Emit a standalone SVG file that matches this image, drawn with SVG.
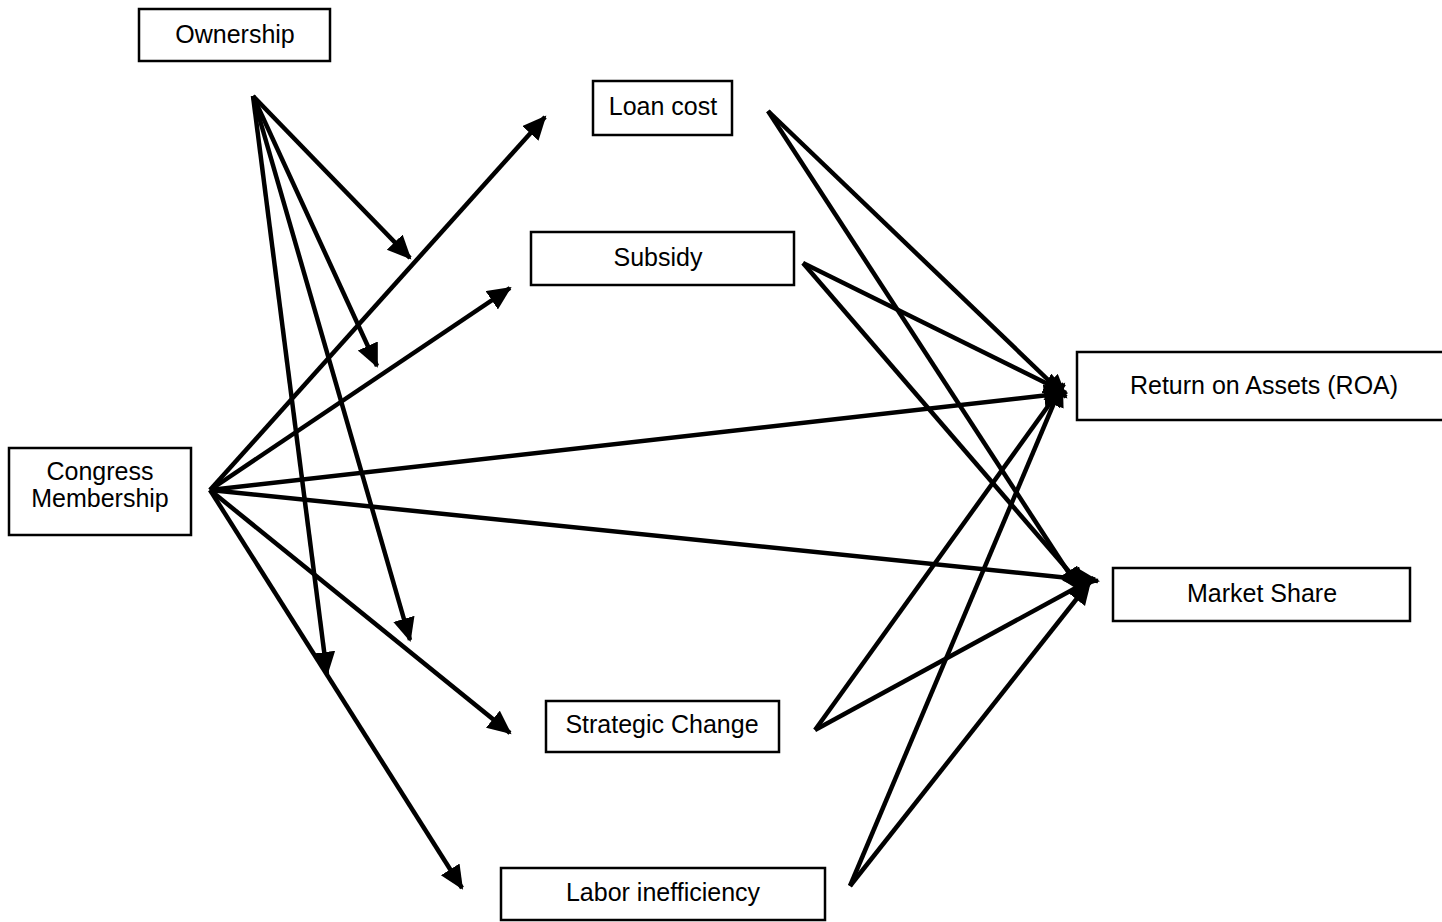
<svg xmlns="http://www.w3.org/2000/svg" width="1442" height="922" viewBox="0 0 1442 922">
<style>
.box{fill:#fff;stroke:#000;stroke-width:2.5}
.lbl{font-family:"Liberation Sans",Arial,sans-serif;font-size:25px;fill:#000;text-anchor:middle}
.ln{stroke:#000;stroke-width:4.5;fill:none;marker-end:url(#ah)}
</style>
<defs>
<marker id="ah" markerUnits="userSpaceOnUse" markerWidth="26" markerHeight="24" refX="22" refY="11" orient="auto">
<path d="M0,0 L24,11 L0,22 Z" fill="#000"/>
</marker>
</defs>
<rect width="1442" height="922" fill="#fff"/>
<g id="connectors">
<line class="ln" x1="253" y1="96" x2="410" y2="258"/>
<line class="ln" x1="253" y1="96" x2="377" y2="366"/>
<line class="ln" x1="253" y1="96" x2="410" y2="640"/>
<line class="ln" x1="253" y1="96" x2="327" y2="674"/>
<line class="ln" x1="210" y1="490" x2="545" y2="117"/>
<line class="ln" x1="210" y1="490" x2="510" y2="288"/>
<line class="ln" x1="210" y1="490" x2="1066" y2="393"/>
<line class="ln" x1="210" y1="490" x2="1098" y2="581"/>
<line class="ln" x1="210" y1="490" x2="510" y2="733"/>
<line class="ln" x1="210" y1="490" x2="462" y2="888"/>
<line class="ln" x1="768" y1="111" x2="1066" y2="397"/>
<line class="ln" x1="768" y1="111" x2="1080" y2="590"/>
<line class="ln" x1="803" y1="263" x2="1066" y2="393"/>
<line class="ln" x1="803" y1="263" x2="1085" y2="590"/>
<line class="ln" x1="815" y1="730" x2="1064" y2="384"/>
<line class="ln" x1="815" y1="730" x2="1094" y2="578"/>
<line class="ln" x1="850" y1="886" x2="1062" y2="384"/>
<line class="ln" x1="850" y1="886" x2="1090" y2="582"/>
</g>
<g id="ownership"><rect class="box" x="139" y="9" width="191" height="52"/><text class="lbl" x="235" y="43">Ownership</text></g>
<g id="loan-cost"><rect class="box" x="593" y="81" width="139" height="54"/><text class="lbl" x="663" y="115">Loan cost</text></g>
<g id="subsidy"><rect class="box" x="531" y="232" width="263" height="53"/><text class="lbl" x="658" y="266">Subsidy</text></g>
<g id="congress"><rect class="box" x="9" y="448" width="182" height="87"/><text class="lbl" x="100" y="480">Congress</text><text class="lbl" x="100" y="507">Membership</text></g>
<g id="roa"><rect class="box" x="1077" y="352" width="370" height="68"/><text class="lbl" x="1264" y="394">Return on Assets (ROA)</text></g>
<g id="market-share"><rect class="box" x="1113" y="568" width="297" height="53"/><text class="lbl" x="1262" y="602">Market Share</text></g>
<g id="strategic-change"><rect class="box" x="546" y="701" width="233" height="51"/><text class="lbl" x="662" y="733">Strategic Change</text></g>
<g id="labor"><rect class="box" x="501" y="868" width="324" height="52"/><text class="lbl" x="663" y="901">Labor inefficiency</text></g>
</svg>
